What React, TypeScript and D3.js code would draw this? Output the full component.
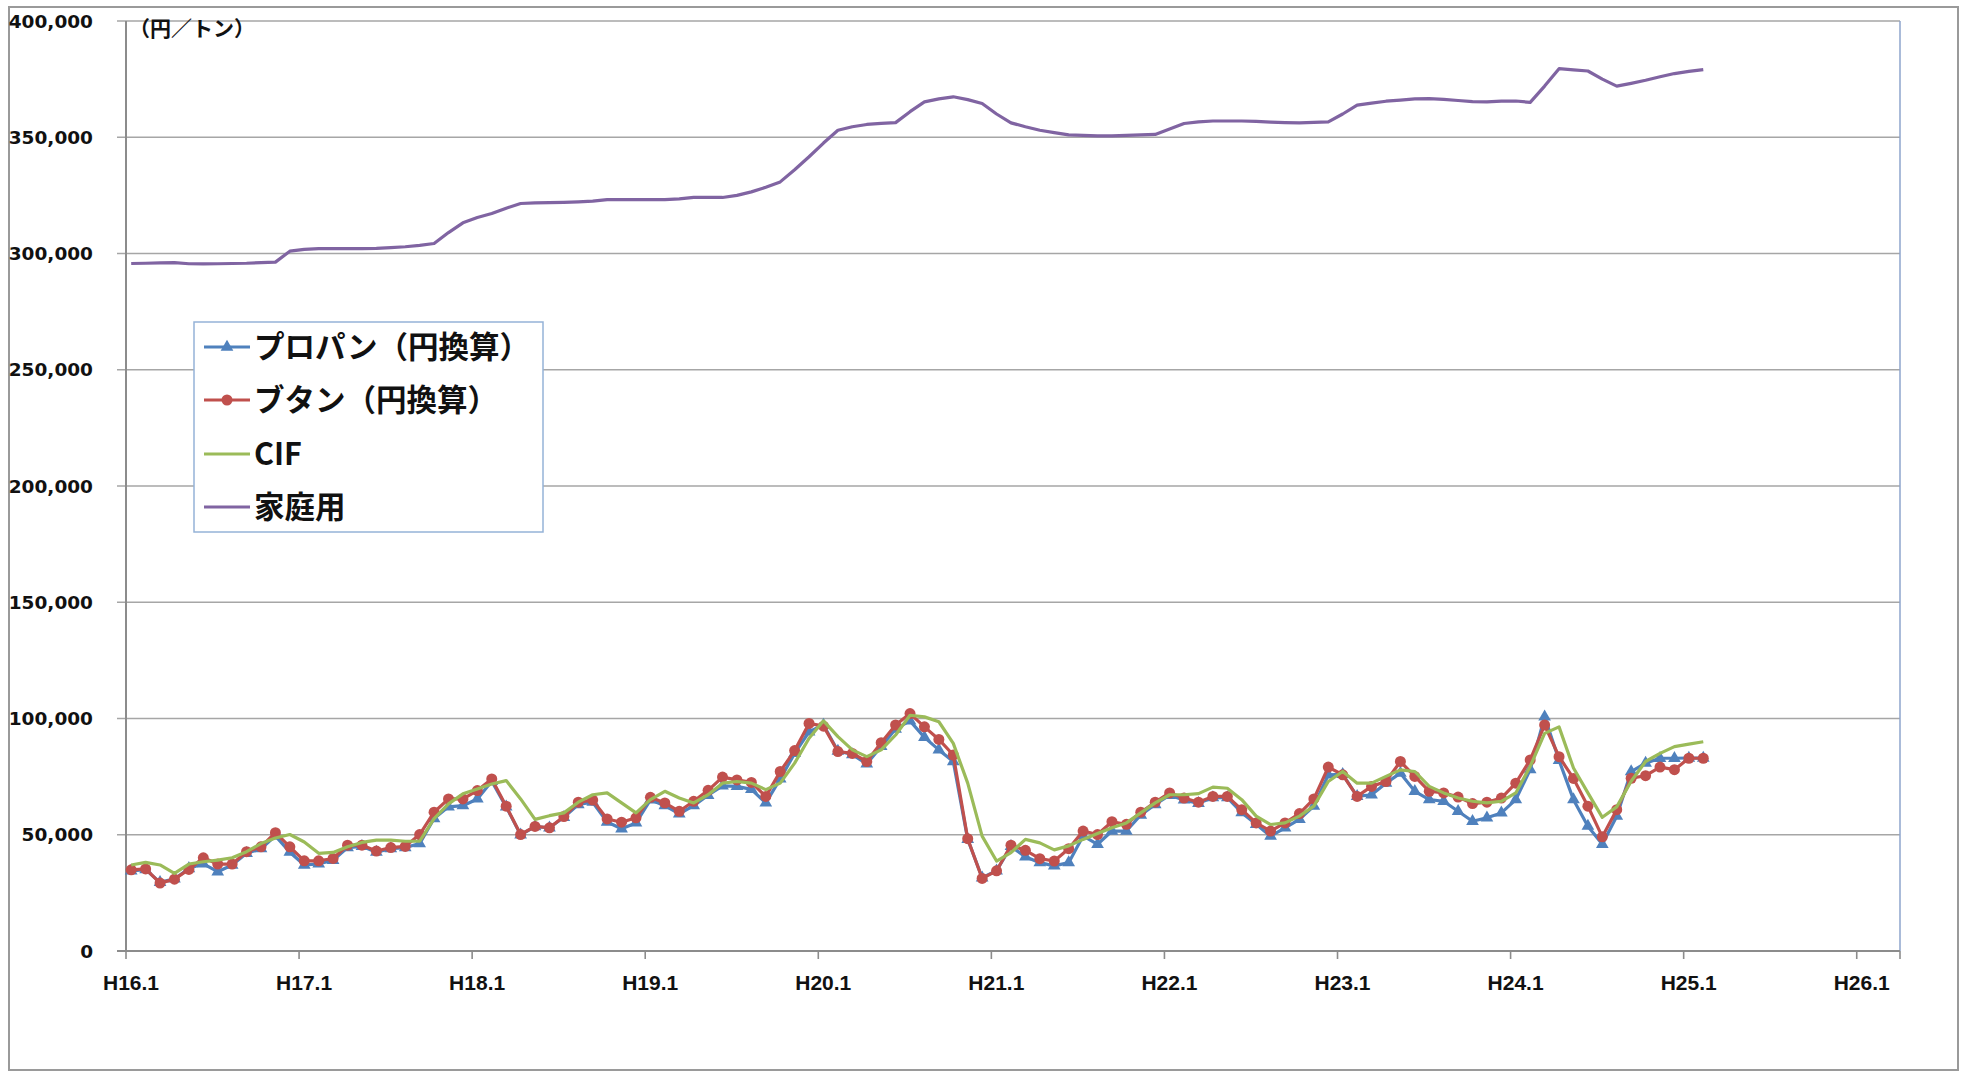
import React from "react";
import * as d3 from "d3";

// Monthly data from H16.1 (index 0) to H25.2 (index 109), yen per ton
const propane = [
  34500, 35000, 29500, 31000, 35500, 37500, 34100, 37000, 42000, 44000,
  49500, 42500, 37000, 37500, 39000, 44500, 45000, 42500, 44000, 44500,
  46200, 57000, 62000, 62500, 65400, 73000, 62000, 50000, 53500, 53000,
  57500, 63000, 64000, 55500, 52600, 55100, 65000, 62500, 59000, 62500,
  67000, 71000, 70800, 69500, 63700, 74000, 85000, 94300, 97200, 86000,
  84500, 80500, 88000, 95500, 99000, 91900, 86500, 81500, 48000, 31500,
  34500, 45000, 40500, 38000, 36600, 38000, 49500, 45900, 51600, 51600,
  58500, 63000, 67000, 65000, 63500, 66000, 66000, 59500, 54500, 49400,
  53000, 56600, 62300, 75800, 76000, 66500, 67200, 72200, 76500, 68700,
  65100, 64400, 60100, 55800, 57300, 59400, 65100, 78000, 100700, 82000,
  65100, 53700, 45900, 58000, 77200, 80800, 82900, 82900, 83000, 83000,
];

const butane = [
  34900, 35300, 29200, 30900, 35100, 40100, 37400, 37400, 42700, 44800,
  50900, 44800, 38800, 38800, 39800, 45500, 45500, 43000, 44500, 45000,
  50100, 59700, 65400, 65400, 69000, 74000, 62300, 50100, 53600, 53000,
  57800, 64000, 64900, 56800, 55400, 57300, 66100, 63700, 60100, 64400,
  69100, 74800, 73600, 72500, 66500, 77200, 86200, 97900, 96700, 85800,
  85000, 81500, 89600, 97200, 102100, 96400, 91000, 84300, 48300, 31200,
  34500, 45500, 43300, 39700, 38700, 44000, 51600, 50100, 55600, 54500,
  59700, 64000, 68000, 65800, 64000, 66500, 66500, 60800, 55100, 51600,
  55100, 59100, 65400, 79100, 75800, 66500, 70800, 72900, 81500, 75100,
  68700, 68000, 66200, 63400, 64000, 65800, 72200, 82200, 97200, 83600,
  74200, 62300, 49100, 60800, 74300, 75400, 79100, 78000, 82900, 82900,
];

const cif = [
  37000, 38100, 37000, 33400, 37400, 38400, 39100, 40100, 42700, 46200,
  48600, 50100, 46900, 42000, 42400, 44800, 46700, 47700, 47700, 47200,
  47200, 56900, 63300, 67600, 69700, 71800, 73300, 65400, 56600, 58200,
  59400, 64000, 67200, 68000, 63700, 59400, 65100, 68700, 65800, 63700,
  67200, 72200, 72900, 72200, 69400, 72200, 80800, 91500, 99000, 92200,
  86500, 83600, 86500, 92900, 101400, 100700, 98600, 89300, 72200, 49400,
  38700, 42300, 48000, 46500, 43500, 45200, 48000, 50500, 53000, 55100,
  59400, 63700, 67200, 67200, 67700, 70500, 70000, 65100, 58000, 54400,
  55100, 58000, 62300, 72900, 77200, 72200, 72200, 75100, 77900, 77200,
  70800, 68000, 65800, 64400, 63700, 64400, 68000, 79400, 93600, 96400,
  78700, 68000, 57500, 62000, 73000, 81500, 85000, 87900, 89000, 90000,
];

const household = [
  295700, 295800, 296000, 296100, 295600, 295500, 295600, 295700, 295800, 296100,
  296300, 301000, 301800, 302100, 302100, 302100, 302100, 302200, 302500, 302900,
  303500, 304300, 309000, 313200, 315500, 317200, 319500, 321500, 321800, 321900,
  322000, 322200, 322500, 323200, 323200, 323200, 323200, 323200, 323500, 324100,
  324100, 324100, 325000, 326500, 328500, 330800, 336000, 341600, 347500, 353000,
  354500, 355500, 356000, 356300, 361000, 365200, 366500, 367400, 366200, 364500,
  360000, 356200, 354500, 353000, 352000, 351000, 350800, 350600, 350600, 350800,
  351000, 351200, 353500, 355900, 356600, 357000, 357000, 357000, 356800, 356500,
  356300, 356200, 356400, 356600, 360000, 363800, 364700, 365500, 366000, 366500,
  366600, 366300, 365800, 365300, 365200, 365500, 365600, 365000, 372000, 379500,
  379000, 378500, 375000, 372000, 373200, 374500, 376000, 377400, 378300, 379100,
];

const xTickLabels = [
  "H16.1", "H17.1", "H18.1", "H19.1", "H20.1", "H21.1",
  "H22.1", "H23.1", "H24.1", "H25.1", "H26.1",
];

const seriesNames = ["プロパン（円換算）", "ブタン（円換算）", "CIF", "家庭用"];
const seriesColors = ["#4F81BD", "#C0504D", "#9BBB59", "#8064A2"];

const W = 1968;
const H = 1072;
const PL = 126;
const PR = 1900;
const PT = 21;
const PB = 951;
const MONTHS_ON_AXIS = 123;
const POINT_OFFSET = 0.36;

export default function App() {
  const x = d3.scaleLinear().domain([0, MONTHS_ON_AXIS]).range([PL, PR]);
  const y = d3.scaleLinear().domain([0, 400000]).range([PB, PT]);
  const px = (i: number) => x(i + POINT_OFFSET);

  const line = d3
    .line<number>()
    .x((_, i) => px(i))
    .y((d) => y(d));

  const yTicks = y.ticks(8);
  const fmt = d3.format(",");
  const tri = d3.symbol(d3.symbolTriangle, 70)() as string;

  const legendY = [347, 400, 454, 507];

  return (
    <svg
      width={W}
      height={H}
      style={{ position: "absolute", left: 0, top: 0, background: "#fff" }}
    >
      <rect x={0} y={0} width={W} height={H} fill="#fff" />
      {/* outer frame */}
      <rect x={9} y={7} width={1949} height={1063} fill="none" stroke="#9a9a9a" strokeWidth={2} />

      {/* gridlines + y ticks */}
      {yTicks.map((t) => (
        <g key={t}>
          <line
            x1={PL - 9}
            x2={t === 0 ? PL : PR}
            y1={y(t)}
            y2={y(t)}
            stroke="#a6a6a6"
            strokeWidth={1.6}
          />
          <text
            x={93}
            y={y(t)}
            dy="0.36em"
            textAnchor="end"
            fontFamily="DejaVu Sans, Verdana, sans-serif"
            fontWeight="bold"
            fontSize={18.5}
            fill="#111"
          >
            {fmt(t)}
          </text>
        </g>
      ))}

      {/* plot right border */}
      <line x1={PR} x2={PR} y1={PT} y2={PB} stroke="#8ea5cc" strokeWidth={1.5} />

      {/* axes */}
      <line x1={PL} x2={PL} y1={PT} y2={PB} stroke="#8c8c8c" strokeWidth={2} />
      <line x1={PL - 9} x2={PR} y1={PB} y2={PB} stroke="#8c8c8c" strokeWidth={2.2} />
      {xTickLabels.map((lab, k) => (
        <g key={lab}>
          <line x1={x(k * 12)} x2={x(k * 12)} y1={PB} y2={PB + 8} stroke="#8c8c8c" strokeWidth={1.6} />
          <text
            x={x(k * 12) + 5}
            y={990}
            textAnchor="middle"
            fontFamily="Liberation Sans, Arial, sans-serif"
            fontWeight="bold"
            fontSize={21}
            fill="#111"
          >
            {lab}
          </text>
        </g>
      ))}
      <line x1={PR} x2={PR} y1={PB} y2={PB + 8} stroke="#8c8c8c" strokeWidth={1.6} />

      {/* unit */}
      <text
        x={129}
        y={36}
        fontFamily="Noto Sans CJK JP, sans-serif"
        fontWeight="bold"
        fontSize={21}
        fill="#111"
      >
        （円／トン）
      </text>

      {/* series */}
      <path d={line(household) || ""} fill="none" stroke={seriesColors[3]} strokeWidth={3.2} strokeLinejoin="round" />
      <path d={line(propane) || ""} fill="none" stroke={seriesColors[0]} strokeWidth={3.2} strokeLinejoin="round" />
      {propane.map((v, i) => (
        <path key={"p" + i} d={tri} transform={`translate(${px(i)},${y(v)})`} fill={seriesColors[0]} />
      ))}
      <path d={line(butane) || ""} fill="none" stroke={seriesColors[1]} strokeWidth={3.2} strokeLinejoin="round" />
      {butane.map((v, i) => (
        <circle key={"b" + i} cx={px(i)} cy={y(v)} r={5.5} fill={seriesColors[1]} />
      ))}
      <path d={line(cif) || ""} fill="none" stroke={seriesColors[2]} strokeWidth={3.2} strokeLinejoin="round" />

      {/* legend */}
      <rect x={194} y={322} width={349} height={210} fill="#fff" stroke="#95B3D7" strokeWidth={1.5} />
      {seriesNames.map((name, k) => (
        <g key={name}>
          <line x1={204} x2={250} y1={legendY[k]} y2={legendY[k]} stroke={seriesColors[k]} strokeWidth={3} />
          {k === 0 && <path d={tri} transform={`translate(227,${legendY[k]})`} fill={seriesColors[0]} />}
          {k === 1 && <circle cx={227} cy={legendY[k]} r={5.5} fill={seriesColors[1]} />}
          <text
            x={254}
            y={legendY[k]}
            dy="0.36em"
            fontFamily="Noto Sans CJK JP, sans-serif"
            fontWeight="bold"
            fontSize={30.5}
            fill="#111"
          >
            {name}
          </text>
        </g>
      ))}
    </svg>
  );
}
